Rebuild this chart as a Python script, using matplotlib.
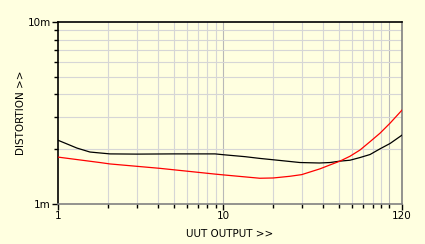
import matplotlib
matplotlib.use("Agg")
import matplotlib.pyplot as plt
from matplotlib.ticker import FixedLocator, NullFormatter

# data (x: UUT output, y: distortion in m-units)
black_x = [1, 1.13, 1.30, 1.56, 2.06, 3, 5, 8.9, 10, 13.5, 16.6, 20, 29, 38, 44.1, 50.6, 58.2, 66.9, 76.9, 88.4, 101.6, 120]
black_y = [2.24, 2.14, 2.03, 1.93, 1.885, 1.88, 1.885, 1.885, 1.865, 1.82, 1.78, 1.75, 1.69, 1.68, 1.69, 1.72, 1.74, 1.80, 1.87, 2.01, 2.15, 2.39]
red_x = [1, 1.79, 2.06, 4.13, 8.89, 10, 16.6, 20, 25.2, 29.7, 38.3, 44.1, 50.6, 58.2, 66.9, 76.9, 88.4, 101.6, 120]
red_y = [1.81, 1.69, 1.66, 1.57, 1.46, 1.445, 1.385, 1.39, 1.42, 1.45, 1.56, 1.64, 1.72, 1.83, 1.98, 2.20, 2.45, 2.78, 3.28]

x_ticks = [1, 10, 120]
x_ticklabels = ["1", "10", "120"]
y_ticks = [1, 10]
y_ticklabels = ["1m", "10m"]

bg = "#FFFFE0"
fig = plt.figure(figsize=(4.25, 2.44), dpi=100, facecolor=bg)
ax = fig.add_axes([58/425, 1-204/244, 344/425, 182/244], facecolor=bg)
ax.set_xscale("log")
ax.set_yscale("log")
ax.set_xlim(1, 120)
ax.set_ylim(1, 10)

# grid
minor_x = [2, 3, 4, 5, 6, 7, 8, 9, 20, 30, 40, 50, 60, 70, 80, 90]
for xv in minor_x:
    ax.axvline(xv, color="#D6D6D6", lw=0.8, zorder=1)
for xv in [10, 100]:
    ax.axvline(xv, color="#B8B8B8", lw=0.8, zorder=1)
for yv in [2, 3, 4, 5, 6, 7, 8, 9]:
    ax.axhline(yv, color="#D6D6D6", lw=0.8, zorder=1)

ax.plot(black_x, black_y, color="black", lw=0.9, zorder=3)
ax.plot(red_x, red_y, color="#FF0000", lw=0.9, zorder=3)

for s in ["left", "top"]:
    ax.spines[s].set_color("black")
    ax.spines[s].set_linewidth(1.2)
for s in ["right", "bottom"]:
    ax.spines[s].set_color("#808080")
    ax.spines[s].set_linewidth(1.2)

ax.xaxis.set_major_locator(FixedLocator(x_ticks))
ax.set_xticklabels(x_ticklabels)
ax.xaxis.set_minor_locator(FixedLocator(minor_x + [100]))
ax.xaxis.set_minor_formatter(NullFormatter())
ax.yaxis.set_major_locator(FixedLocator(y_ticks))
ax.set_yticklabels(y_ticklabels)
ax.yaxis.set_minor_locator(FixedLocator([2, 3, 4, 5, 6, 7, 8, 9]))
ax.yaxis.set_minor_formatter(NullFormatter())

ax.tick_params(axis="x", which="major", direction="out", length=4, width=1, color="black", labelsize=7.5, pad=1)
ax.tick_params(axis="x", which="minor", direction="out", length=3, width=1, color="black")
ax.tick_params(axis="y", which="major", direction="out", length=4, width=1, color="black", labelsize=7.5, pad=1)
ax.tick_params(axis="y", which="minor", direction="out", length=3, width=1, color="black")

ax.set_xlabel("UUT OUTPUT >>", fontsize=7.5, labelpad=6)
ax.set_ylabel("DISTORTION >>", fontsize=7.5, labelpad=1.5)

fig.savefig("out.png", dpi=100, facecolor=bg)
